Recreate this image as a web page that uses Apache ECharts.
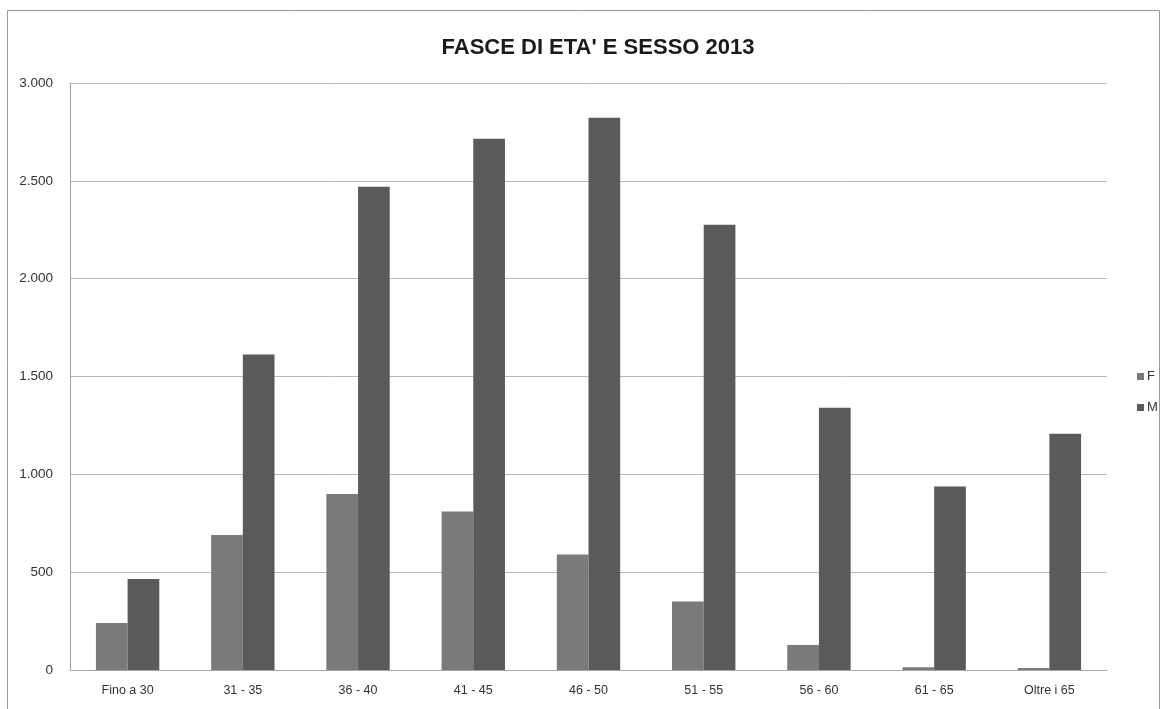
<!DOCTYPE html>
<html>
<head>
<meta charset="utf-8">
<script src="https://cdn.jsdelivr.net/npm/echarts@6/dist/echarts.min.js"></script>
<style>
  html, body { margin: 0; padding: 0; background: #ffffff; }
  #chart { width: 1164px; height: 709px; }
</style>
</head>
<body>
<div id="chart"></div>
<script>
// Age bands and head counts by sex, 2013
const categories = ['Fino a 30', '31 - 35', '36 - 40', '41 - 45', '46 - 50', '51 - 55', '56 - 60', '61 - 65', 'Oltre i 65'];
const valuesF = [240, 690, 900, 810, 590, 350, 128, 14, 10];
const valuesM = [465, 1612, 2470, 2715, 2822, 2275, 1340, 938, 1207];
const seriesNames = ['F', 'M'];
const yTicks = { min: 0, max: 3000, interval: 500 };

const labelFont = 'Liberation Sans, Arial, sans-serif';

const chart = echarts.init(document.getElementById('chart'), null, { renderer: 'canvas' });

chart.setOption({
  backgroundColor: '#ffffff',
  animation: false,
  title: {
    text: "FASCE DI ETA' E SESSO 2013",
    left: 593,
    top: 32,
    textAlign: 'center',
    textStyle: {
      fontFamily: labelFont,
      fontWeight: 'bold',
      fontSize: 22,
      color: '#1a1a1a'
    }
  },
  legend: {
    orient: 'vertical',
    left: 1132,
    top: 365,
    itemWidth: 7,
    itemHeight: 7,
    itemGap: 18,
    icon: 'rect',
    data: seriesNames,
    textStyle: { fontFamily: labelFont, fontSize: 13, color: '#333', padding: [0, 0, 0, -2] }
  },
  grid: {
    left: 70,
    right: 57,
    top: 83,
    bottom: 39,
    containLabel: false
  },
  graphic: [{
    type: 'rect',
    shape: { x: 7.5, y: 10.5, width: 1152, height: 730 },
    style: { fill: 'none', stroke: '#9a9a9a', lineWidth: 1 },
    silent: true
  }],
  xAxis: {
    type: 'category',
    data: categories,
    axisLine: { show: true, lineStyle: { color: '#a8a8a8', width: 1 } },
    axisTick: { show: false },
    axisLabel: {
      fontFamily: labelFont,
      fontSize: 12.5,
      color: '#333',
      margin: 14
    }
  },
  yAxis: {
    type: 'value',
    min: yTicks.min,
    max: yTicks.max,
    interval: yTicks.interval,
    axisLine: { show: true, lineStyle: { color: '#a0a0a0', width: 1 } },
    axisTick: { show: false },
    splitLine: { show: true, lineStyle: { color: '#b8b8b8', width: 1 } },
    axisLabel: {
      fontFamily: labelFont,
      fontSize: 13.5,
      color: '#333',
      margin: 17,
      formatter: v => v.toString().replace(/\B(?=(\d{3})+(?!\d))/g, '.')
    }
  },
  series: [
    {
      name: seriesNames[0],
      type: 'bar',
      data: valuesF,
      barGap: '0%',
      barCategoryGap: '45%',
      itemStyle: { color: '#7a7a7a' }
    },
    {
      name: seriesNames[1],
      type: 'bar',
      data: valuesM,
      barGap: '0%',
      barCategoryGap: '45%',
      itemStyle: { color: '#5a5a5a' }
    }
  ]
});
</script>
</body>
</html>
